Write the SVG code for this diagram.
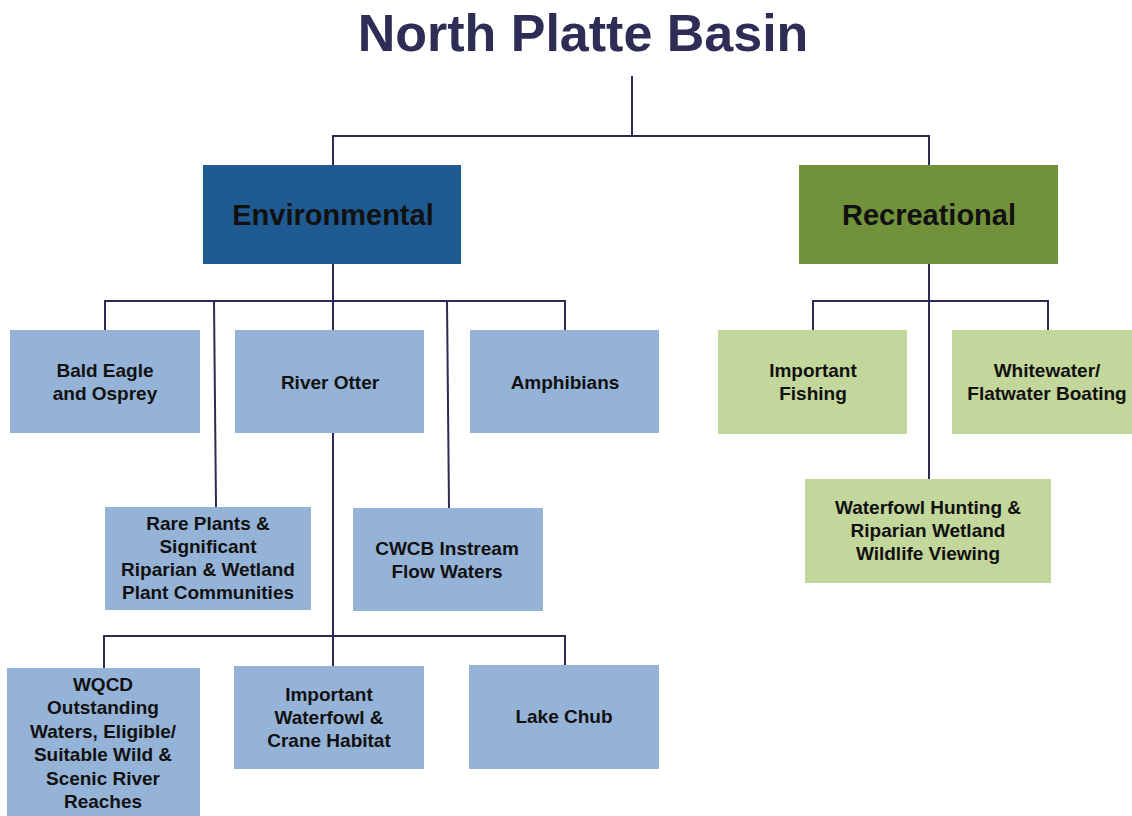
<svg xmlns="http://www.w3.org/2000/svg" width="1132" height="816" viewBox="0 0 1132 816">
<style>
.t{font-family:"Liberation Sans",Arial,sans-serif;font-weight:bold;text-anchor:middle;fill:#111;}
.s{font-size:19px;}
.h{font-size:29px;}
.lb{fill:#95B3D7;}
.lg{fill:#C3D69B;}
.c{stroke:#2B2B55;stroke-width:2;fill:none;}
</style>
<rect width="1132" height="816" fill="#fff"/>
<text class="t" x="583" y="51" style="font-size:52px;fill:#2D2D55">North Platte Basin</text>
<g id="connectors" class="c">
<path d="M632,76V136M333,165V136H929V165"/>
<path d="M333,264V301M105,330V301H565V330M333,301V330"/>
<path d="M214,301L216,507M447,301L449,508"/>
<path d="M333,433V636M104,668V636H565V665M333,636V666"/>
<path d="M929,264V479M813,330V301H1048V330"/>
</g>
<g id="environmental"><rect x="203" y="165" width="258" height="99" fill="#1F5A91"/><text class="t h" x="333" y="225">Environmental</text></g>
<g id="recreational"><rect x="799" y="165" width="259" height="99" fill="#71913B"/><text class="t h" x="929" y="225">Recreational</text></g>
<g id="bald-eagle"><rect class="lb" x="10" y="330" width="190" height="103"/><text class="t s" x="105" y="377">Bald Eagle</text><text class="t s" x="105" y="400">and Osprey</text></g>
<g id="river-otter"><rect class="lb" x="235" y="330" width="189" height="103"/><text class="t s" x="330" y="389">River Otter</text></g>
<g id="amphibians"><rect class="lb" x="470" y="330" width="189" height="103"/><text class="t s" x="565" y="389">Amphibians</text></g>
<g id="rare-plants"><rect class="lb" x="105" y="507" width="206" height="103"/><text class="t s" x="208" y="530">Rare Plants &amp;</text><text class="t s" x="208" y="553">Significant</text><text class="t s" x="208" y="576">Riparian &amp; Wetland</text><text class="t s" x="208" y="599">Plant Communities</text></g>
<g id="cwcb"><rect class="lb" x="353" y="508" width="190" height="103"/><text class="t s" x="447" y="555">CWCB Instream</text><text class="t s" x="447" y="578">Flow Waters</text></g>
<g id="wqcd"><rect class="lb" x="7" y="668" width="193" height="160"/><text class="t s" x="103" y="691">WQCD</text><text class="t s" x="103" y="714">Outstanding</text><text class="t s" x="103" y="738">Waters, Eligible/</text><text class="t s" x="103" y="761">Suitable Wild &amp;</text><text class="t s" x="103" y="785">Scenic River</text><text class="t s" x="103" y="808">Reaches</text></g>
<g id="waterfowl-crane"><rect class="lb" x="234" y="666" width="190" height="103"/><text class="t s" x="329" y="701">Important</text><text class="t s" x="329" y="724">Waterfowl &amp;</text><text class="t s" x="329" y="747">Crane Habitat</text></g>
<g id="lake-chub"><rect class="lb" x="469" y="665" width="190" height="104"/><text class="t s" x="564" y="723">Lake Chub</text></g>
<g id="fishing"><rect class="lg" x="718" y="330" width="189" height="104"/><text class="t s" x="813" y="377">Important</text><text class="t s" x="813" y="400">Fishing</text></g>
<g id="boating"><rect class="lg" x="952" y="330" width="190" height="104"/><text class="t s" x="1047" y="377">Whitewater/</text><text class="t s" x="1047" y="400">Flatwater Boating</text></g>
<g id="hunting"><rect class="lg" x="805" y="479" width="246" height="104"/><text class="t s" x="928" y="514">Waterfowl Hunting &amp;</text><text class="t s" x="928" y="537">Riparian Wetland</text><text class="t s" x="928" y="560">Wildlife Viewing</text></g>
</svg>
